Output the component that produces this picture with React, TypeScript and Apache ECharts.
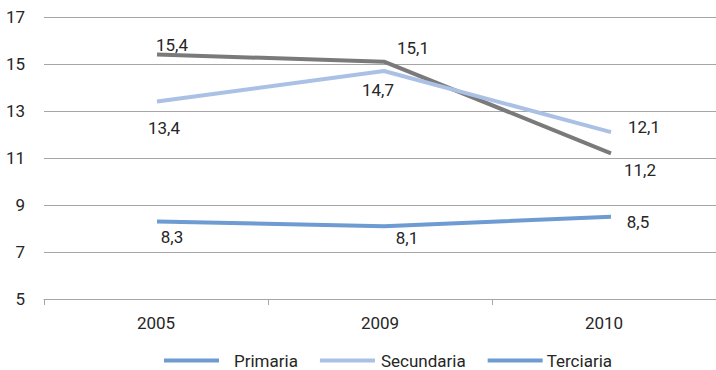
import React, { useEffect, useRef } from "react";
import * as echarts from "echarts";

const years = ["2005", "2009", "2010"];
const primaria = [8.3, 8.1, 8.5];
const secundaria = [13.4, 14.7, 12.1];
const terciaria = [15.4, 15.1, 11.2];
const yTicks = { min: 5, max: 17, interval: 2 };

const FONT = 'Roboto, "Noto Sans", sans-serif';
const FS = 17;
const TEXT = "#262626";
const GRID_LINE = "#a6a6a6";

const C_PRIM = "#6e9bd2";
const C_SEC = "#aac0e4";
const C_TER = "#7a7a7a";

// label offsets (px) relative to each point, per series
const offPrim = [[15, 16], [23, 12], [27, 5]];
const offSec = [[7, 26], [-6, 19], [33, -5]];
const offTer = [[15, -10], [29, -14], [29, 17]];

const fmt = (p: any) => String(p.value).replace(".", ",");

function lineSeries(name: string, values: number[], color: string, offsets: number[][], z: number) {
  return {
    name,
    type: "line",
    xAxisIndex: 1,
    yAxisIndex: 1,
    symbol: "circle",
    symbolSize: 0,
    showSymbol: true,
    z,
    lineStyle: { color, width: 4, cap: "butt", join: "round" },
    itemStyle: { color },
    label: {
      show: true,
      position: "inside",
      formatter: fmt,
      color: TEXT,
      fontFamily: FONT,
      fontSize: FS,
    },
    data: values.map((v, i) => ({ value: v, label: { offset: offsets[i] } })),
  };
}

export default function App() {
  const ref = useRef<HTMLDivElement>(null);

  useEffect(() => {
    document.body.style.margin = "0";
    const chart = echarts.init(ref.current!, undefined, { renderer: "svg" });
    chart.setOption({
      animation: false,
      backgroundColor: "#ffffff",
      textStyle: { fontFamily: FONT },
      grid: [
        { left: 44, right: -53, top: 17, bottom: 71 },
        { left: 157, right: 105, top: 17, bottom: 71 },
      ],
      xAxis: [
        {
          type: "category",
          gridIndex: 0,
          data: years,
          boundaryGap: true,
          axisLine: { show: true, lineStyle: { color: GRID_LINE, width: 1 } },
          axisTick: { show: true, length: 6, lineStyle: { color: GRID_LINE } },
          axisLabel: { color: TEXT, fontFamily: FONT, fontSize: FS, margin: 15 },
          splitLine: { show: false },
        },
        {
          type: "category",
          gridIndex: 1,
          data: years,
          boundaryGap: false,
          show: false,
        },
      ],
      yAxis: [
        {
          type: "value",
          gridIndex: 0,
          min: yTicks.min,
          max: yTicks.max,
          interval: yTicks.interval,
          axisLine: { show: false },
          axisTick: { show: false },
          axisLabel: { color: TEXT, fontFamily: FONT, fontSize: FS, margin: 19 },
          splitLine: { show: true, lineStyle: { color: GRID_LINE, width: 1 } },
        },
        {
          type: "value",
          gridIndex: 1,
          min: yTicks.min,
          max: yTicks.max,
          interval: yTicks.interval,
          show: false,
          splitLine: { show: false },
        },
      ],
      legend: {
        left: 164,
        top: 352,
        padding: 0,
        itemWidth: 55,
        itemHeight: 4,
        itemGap: 22,
        icon: "rect",
        textStyle: { color: TEXT, fontFamily: FONT, fontSize: FS, lineHeight: 17 },
        data: [
          { name: "Primaria", textStyle: { padding: [0, 0, 0, 10] } },
          { name: "Secundaria", textStyle: { padding: [0, 0, 0, 1] } },
          {
            name: "Terciaria",
            itemStyle: { color: C_PRIM },
            lineStyle: { color: C_PRIM },
            textStyle: { padding: [0, 0, 0, -1] },
          },
        ],
      },
      series: [
        lineSeries("Primaria", primaria, C_PRIM, offPrim, 2),
        lineSeries("Secundaria", secundaria, C_SEC, offSec, 4),
        lineSeries("Terciaria", terciaria, C_TER, offTer, 3),
      ],
    });
    return () => chart.dispose();
  }, []);

  return (
    <div
      ref={ref}
      style={{ position: "absolute", left: 0, top: 0, width: 716, height: 370, background: "#fff" }}
    />
  );
}
